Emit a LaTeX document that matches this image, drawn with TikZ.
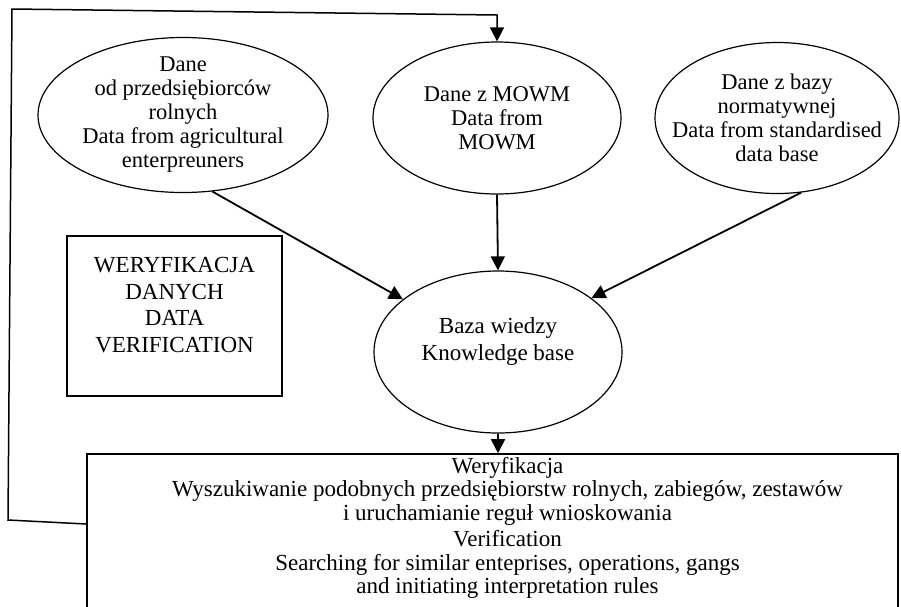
\documentclass[tikz,border=0pt]{standalone}
\usepackage{fontspec}
\setmainfont{Liberation Serif}
\usetikzlibrary{shapes.geometric,arrows.meta}
\begin{document}
\begin{tikzpicture}[x=1pt, y=-1pt,
    source/.style = {shape=ellipse, draw=black, line width=1.2pt, inner xsep=-40pt, inner ysep=-30pt, align=center, font=\fontsize{22.5}{24}\selectfont},
    frame/.style = {draw=black, line width=1.6pt, inner sep=0pt},
    link/.style = {draw=black, line width=1.8pt, -{Triangle[length=14pt, width=14pt]}}]
    \clip (0,0) rectangle (901,606);

    \node[source, minimum width=290, minimum height=155] (farm) at (183,115) {Dane\\od przedsiębiorców\\rolnych\\Data from agricultural\\enterpreuners};
    \node[source, minimum width=248, minimum height=152] (mowm) at (497,118) {Dane z MOWM\\Data from\\MOWM};
    \node[source, minimum width=244, minimum height=151] (norm) at (777,118) {Dane z bazy\\normatywnej\\Data from standardised\\data base};
    \node[source, minimum width=248, minimum height=162, text depth=26pt, font=\fontsize{23}{27}\selectfont] (kb) at (498,352) {Baza wiedzy\\Knowledge base};

    \node[frame, minimum width=215, minimum height=160,
        label={[align=center, yshift=11, font=\fontsize{23}{26.5}\selectfont]center:WERYFIKACJA\\DANYCH\\DATA\\VERIFICATION}] (check) at (174.5,316) {};
    \node[frame, minimum width=811, minimum height=156,
        label={[align=center, xshift=15, yshift=4, font=\fontsize{23}{23.5}\selectfont]center:Weryfikacja\\Wyszukiwanie podobnych przedsiębiorstw rolnych, zabiegów, zestawów\\i uruchamianie reguł wnioskowania\\[3pt]Verification\\Searching for similar enteprises, operations, gangs\\and initiating interpretation rules}] (verif) at (492.5,532) {};

    \foreach \from/\to in {farm.-69/kb.151, mowm.south/kb.north, norm.-72/kb.30}
        \draw [link] (\from) to (\to);
    \draw [link] (kb.south) to (kb.south |- verif.north);

    % back to the data sources
    \coordinate (back) at (8,520);
    \coordinate (up) at (12,9);
    \coordinate (over) at (497,15);
    \draw [link, line width=1.5pt] ([yshift=8]verif.west) -- (back) -- (up) -- (over) -- (mowm.north);
\end{tikzpicture}
\end{document}
